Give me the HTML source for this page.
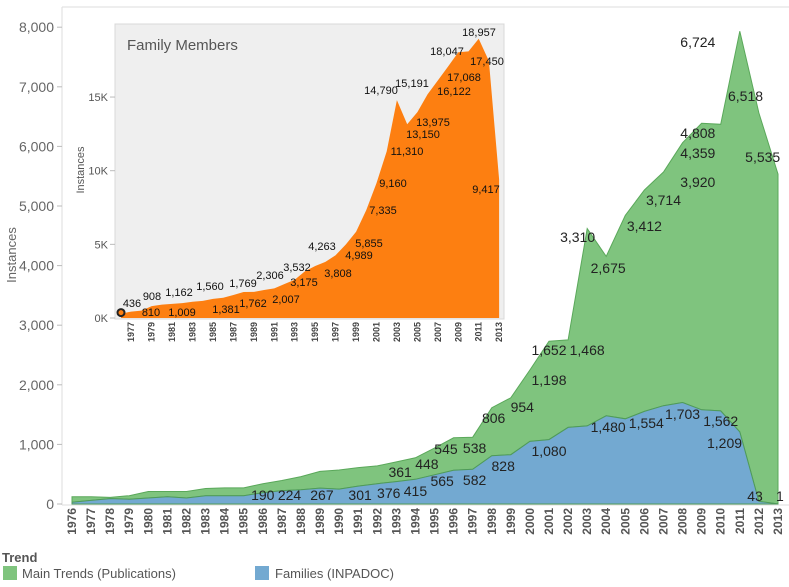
<!DOCTYPE html>
<html><head><meta charset="utf-8"><style>
html,body{margin:0;padding:0;background:#fff;}
svg{display:block;font-family:"Liberation Sans",Arial,sans-serif;}
</style></head><body>
<svg id="c" width="789" height="587" viewBox="0 0 789 587" xmlns="http://www.w3.org/2000/svg"></svg>
<script>
const years=[];for(let y=1976;y<=2013;y++)years.push(y);
const families=[30,60,90,80,100,120,100,140,140,140,190,224,240,267,250,301,340,376,415,490,565,582,810,828,1050,1080,1286,1310,1480,1430,1554,1650,1703,1580,1562,1209,43,1];
const publications=[90,60,20,60,110,90,110,120,130,130,150,170,220,280,320,310,300,330,361,448,545,538,806,954,1198,1652,1468,3310,2675,3412,3714,3920,4359,4808,4808,6724,6518,5535];
const yTicks=[0,1000,2000,3000,4000,5000,6000,7000,8000];
const familyMembers=[300,436,500,810,908,960,1009,1100,1162,1300,1381,1560,1762,1769,1900,2007,2306,2600,3175,3532,3808,4263,4989,5855,7335,9160,11310,14790,13150,13975,15191,16122,17068,18047,18100,18957,17450,9417];
const insetTicks=[0,5000,10000,15000];
const greenLabels=[[1993.2,"361",472],[1994.6,"448",464],[1995.6,"545",449],[1997.1,"538",448],[1998.1,"806",418],[1999.6,"954",407],[2001,"1,198",380],[2001,"1,652",350],[2003,"1,468",350],[2002.5,"3,310",237],[2004.1,"2,675",268],[2006,"3,412",226],[2007,"3,714",200],[2008.8,"3,920",182],[2008.8,"4,359",153],[2008.8,"4,808",133],[2008.8,"6,724",42],[2011.3,"6,518",96],[2012.2,"5,535",157]];
const blueLabels=[[1986,"190",495],[1987.4,"224",495],[1989.1,"267",495],[1991.1,"301",495],[1992.6,"376",493],[1994,"415",491],[1995.4,"565",481],[1997.1,"582",480],[1998.6,"828",466],[2001,"1,080",451],[2004.1,"1,480",427],[2006.1,"1,554",423],[2008,"1,703",414],[2010,"1,562",421],[2010.2,"1,209",443],[2011.8,"43",496],[2013.1,"1",496]];
const insetLabels=[[132,"436",303],[152,"908",296],[179,"1,162",292],[210,"1,560",286],[243,"1,769",283],[270,"2,306",275],[297,"3,532",267],[322,"4,263",246],[151,"810",312],[182,"1,009",312],[226,"1,381",309],[253,"1,762",303],[286,"2,007",299],[304,"3,175",282],[338,"3,808",273],[359,"4,989",255],[369,"5,855",243],[383,"7,335",210],[393,"9,160",183],[407,"11,310",151],[381,"14,790",90],[412,"15,191",83],[433,"13,975",122],[423,"13,150",134],[454,"16,122",91],[464,"17,068",77],[447,"18,047",51],[479,"18,957",32],[487,"17,450",61],[486,"9,417",189]];

const NS="http://www.w3.org/2000/svg";
const svg=document.getElementById('c');
function el(tag,attrs,parent,text){const e=document.createElementNS(NS,tag);for(const k in attrs)e.setAttribute(k,attrs[k]);if(text!==undefined)e.textContent=text;(parent||svg).appendChild(e);return e;}
const X=y=>72+(y-1976)*19.08;
const Y=v=>504-v*0.0596;
const fmt=v=>v.toLocaleString('en-US');

let e=el('line',{x1:62,y1:7,x2:789,y2:7,stroke:'#ddd'});

e=el('line',{x1:62,y1:7,x2:62,y2:505,stroke:'#ddd'});

e=el('line',{x1:62,y1:505,x2:789,y2:505,stroke:'#ddd'});

yTicks.forEach(t=>{
 const yy=Y(t);
 let l=el('line',{x1:57,y1:yy,x2:62,y2:yy,stroke:'#bbb'});
 
 let tx=el('text',{x:54,y:yy+5,'text-anchor':'end','font-size':14,fill:'#666'},svg,fmt(t));
 
});
e=el('text',{x:16,y:255,'text-anchor':'middle','font-size':13,fill:'#666',transform:'rotate(-90 16 255)'},svg,'Instances');


const upper=[],mid=[],base=[];
years.forEach((y,i)=>{upper.push([X(y),Y(families[i]+publications[i])]);mid.push([X(y),Y(families[i])]);base.push([X(y),Y(0)]);});
const pts=a=>a.map(p=>p[0].toFixed(1)+','+p[1].toFixed(1)).join(' ');
e=el('polygon',{points:pts(upper)+' '+pts(mid.slice().reverse()),fill:'#7fc47e',stroke:'#5aa85a','stroke-width':1});

e=el('polygon',{points:pts(mid)+' '+pts(base.slice().reverse()),fill:'#73a9d1',stroke:'#4f9a5a','stroke-width':1});


greenLabels.forEach(L=>{let t=el('text',{x:X(L[0]),y:L[2]+5,'text-anchor':'middle','font-size':14,fill:'#222'},svg,L[1]);
 });
blueLabels.forEach(L=>{let t=el('text',{x:X(L[0]),y:L[2]+5,'text-anchor':'middle','font-size':14,fill:'#222'},svg,L[1]);
 });

years.forEach(y=>{const xx=X(y);
 let t=el('text',{x:0,y:0,'font-size':12,'font-weight':'bold',fill:'#555','text-anchor':'end',transform:`translate(${xx+4},508) rotate(-90)`},svg,String(y));
 });

const g=el('g',{});

e=el('rect',{x:115,y:24,width:389,height:295,fill:'#efefef',stroke:'#d8d8d8'},g);

const IX=y=>121+(y-1976)*10.22;
const IY=v=>318-v*0.01473;
insetTicks.forEach(t=>{const yy=IY(t);
 let l=el('line',{x1:110,y1:yy,x2:115,y2:yy,stroke:'#bbb'},g);
 
 let tx=el('text',{x:108,y:yy+4,'text-anchor':'end','font-size':11,fill:'#555'},g,(t/1000)+'K');
 });
e=el('text',{x:84,y:170,'text-anchor':'middle','font-size':11,fill:'#555',transform:'rotate(-90 84 170)'},g,'Instances');

const ip=years.map((y,i)=>[IX(y),IY(familyMembers[i])]);
e=el('polygon',{points:pts(ip)+` ${IX(2013)},${IY(0)} ${IX(1976)},${IY(0)}`,fill:'#fd7f11'},g);

e=el('circle',{cx:IX(1976),cy:IY(familyMembers[0])-1,r:3.5,fill:'#fd7f11',stroke:'#222','stroke-width':2},g);

e=el('text',{x:127,y:50,'font-size':15,fill:'#555'},g,'Family Members');

insetLabels.forEach(L=>{let t=el('text',{x:L[0],y:L[2]+4,'text-anchor':'middle','font-size':11,fill:'#111'},g,L[1]);
 });
years.forEach(y=>{if(y%2===0)return;const xx=IX(y);
 let t=el('text',{x:0,y:0,'font-size':9,'font-weight':'bold',fill:'#444','text-anchor':'end',transform:`translate(${xx+3},322) rotate(-90)`},g,String(y));
 });

e=el('text',{x:2,y:562,'font-size':13,'font-weight':'bold',fill:'#555'},svg,'Trend');

e=el('rect',{x:3,y:566,width:14,height:14,fill:'#7fc47e'});

e=el('text',{x:22,y:578,'font-size':13,fill:'#555'},svg,'Main Trends (Publications)');

e=el('rect',{x:255,y:566,width:14,height:14,fill:'#73a9d1'});

e=el('text',{x:275,y:578,'font-size':13,fill:'#555'},svg,'Families (INPADOC)');

</script>
</body></html>
